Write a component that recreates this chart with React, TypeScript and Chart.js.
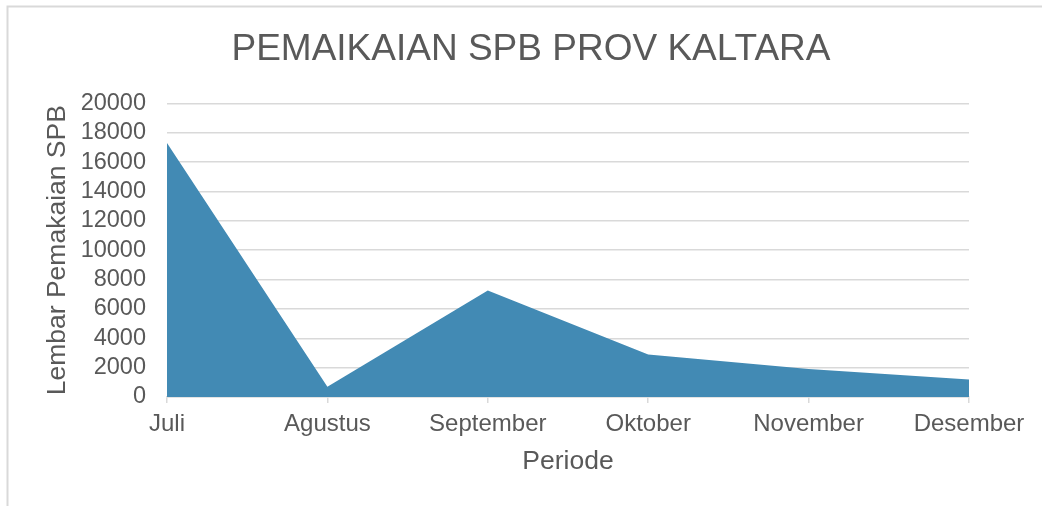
import React, { useEffect, useRef } from "react";
import { Chart, registerables } from "chart.js";

Chart.register(...registerables);

const chartTitle = "PEMAIKAIAN SPB PROV KALTARA";
const categories = ["Juli", "Agustus", "September", "Oktober", "November", "Desember"];
const usage = [17300, 700, 7250, 2900, 1900, 1200];
const yTickMin = 0;
const yTickMax = 20000;
const yTickStep = 2000;
const xAxisTitle = "Periode";
const yAxisTitle = "Lembar Pemakaian SPB";

const FONT = "'Liberation Sans', Arial, sans-serif";
const TEXT = "#595959";
const GRID = "#d9d9d9";

const outerBorder = {
  id: "outerBorder",
  beforeDraw(chart: any) {
    const ctx = chart.ctx;
    ctx.save();
    ctx.fillStyle = "#ffffff";
    ctx.fillRect(0, 0, chart.width, chart.height);
    ctx.strokeStyle = GRID;
    ctx.lineWidth = 2;
    ctx.strokeRect(7.5, 6.5, 3000, 3000);
    ctx.restore();
  },
};

export default function App() {
  const ref = useRef<HTMLCanvasElement | null>(null);
  useEffect(() => {
    if (!ref.current) return;
    const chart = new Chart(ref.current, {
      type: "line",
      data: {
        labels: categories,
        datasets: [
          {
            label: "SPB",
            data: usage,
            fill: "origin",
            backgroundColor: "#428ab4",
            borderWidth: 0,
            pointRadius: 0,
            tension: 0,
          },
        ],
      },
      plugins: [outerBorder],
      options: {
        responsive: false,
        animation: false,
        layout: { padding: { left: 20, right: 0, top: 0, bottom: 0 } },
        plugins: {
          legend: { display: false },
          tooltip: { enabled: false },
          title: {
            display: true,
            text: chartTitle,
            color: TEXT,
            font: { family: FONT, size: 37, weight: "normal" },
            padding: { top: 27.4, bottom: 31.6 },
          },
        },
        scales: {
          x: {
            type: "category",
            offset: false,
            grid: {
              display: true,
              drawOnChartArea: false,
              drawTicks: true,
              tickLength: 6,
              color: GRID,
              lineWidth: 1.5,
            },
            border: { display: true, color: GRID, width: 1.5 },
            ticks: {
              color: TEXT,
              font: { family: FONT, size: 24 },
              padding: 7,
              maxRotation: 0,
              autoSkip: false,
            },
            title: {
              display: true,
              text: xAxisTitle,
              color: TEXT,
              font: { family: FONT, size: 26.5 },
              padding: { top: 0, bottom: 28.4 },
            },
            afterFit(scale: any) {
              scale.height = 109;
              scale.paddingRight = 73;
            },
          },
          y: {
            min: yTickMin,
            max: yTickMax,
            grid: {
              color: GRID,
              lineWidth: 1.5,
              drawTicks: false,
            },
            border: { display: false },
            ticks: {
              stepSize: yTickStep,
              color: TEXT,
              font: { family: FONT, size: 23.5 },
              padding: 21,
              autoSkip: false,
              callback: (v: any) => String(v),
            },
            title: {
              display: true,
              text: yAxisTitle,
              color: TEXT,
              font: { family: FONT, size: 26.5 },
              padding: { top: 21.4, bottom: 0 },
            },
            afterFit(scale: any) {
              scale.width = 147;
            },
          },
        },
      },
    } as any);
    return () => chart.destroy();
  }, []);
  return (
    <div style={{ position: "fixed", left: 0, top: 0, width: 1042, height: 506, background: "#fff" }}>
      <canvas ref={ref} width={1042} height={506} style={{ display: "block" }} />
    </div>
  );
}
